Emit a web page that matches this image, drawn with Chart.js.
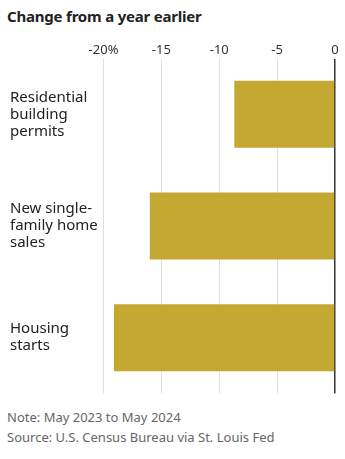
<!DOCTYPE html>
<html>
<head>
<meta charset="utf-8">
<script src="https://cdn.jsdelivr.net/npm/chart.js@4/dist/chart.umd.min.js"></script>
<style>
  body { margin: 0; background: #fff; width: 345px; height: 459px; position: relative; overflow: hidden; font-family: "Noto Sans", sans-serif; }
  #title { position: absolute; left: 7px; top: 6px; font-size: 15px; font-weight: bold; color: #222; letter-spacing: -0.2px; }
  #wrap { position: absolute; left: 0; top: 0; width: 345px; height: 400px; }
  .note { position: absolute; left: 7px; font-size: 13px; color: #666; }
</style>
</head>
<body>
<div id="title">Change from a year earlier</div>
<div id="wrap"><canvas id="barChart"></canvas></div>
<div class="note" style="top:408px">Note: May 2023 to May 2024</div>
<div class="note" style="top:428px">Source: U.S. Census Bureau via St. Louis Fed</div>
<script>
  // Categories (multi-line labels) and year-over-year change, %
  const categories = [
    ['Residential', 'building', 'permits'],
    ['New single-', 'family home', 'sales'],
    ['Housing', 'starts']
  ];
  const changes = [-8.7, -16.0, -19.1];
  const tickValues = [-20, -15, -10, -5, 0];

  const ctx = document.getElementById('barChart').getContext('2d');
  new Chart(ctx, {
    type: 'bar',
    data: {
      labels: categories,
      datasets: [{
        data: changes,
        backgroundColor: '#c4a832',
        barPercentage: 0.75,
        categoryPercentage: 0.8
      }]
    },
    options: {
      indexAxis: 'y',
      responsive: true,
      maintainAspectRatio: false,
      animation: false,
      layout: { padding: { left: 10, right: 10, top: 30, bottom: 6.5 } },
      plugins: { legend: { display: false }, tooltip: { enabled: false } },
      scales: {
        x: {
          position: 'top',
          min: -20,
          max: 0,
          afterBuildTicks: (scale) => { scale.ticks = tickValues.map(v => ({ value: v })); },
          afterFit: (scale) => { scale.height = 28.5; },
          border: { display: false },
          grid: {
            drawTicks: false,
            color: (c) => c.tick && c.tick.value === 0 ? '#333' : '#e0e0e0',
            lineWidth: (c) => c.tick && c.tick.value === 0 ? 1.5 : 1
          },
          ticks: {
            padding: 0,
            color: '#333',
            font: { family: 'Noto Sans', size: 13 },
            callback: (v) => v === -20 ? '-20%' : String(v)
          }
        },
        y: {
          // labels sit inside their bands, so no extra room above/below the plot
          afterFit: (scale) => {
            scale.width = 93.5;
            scale.paddingTop = 0;
            scale.paddingBottom = 0;
          },
          border: { display: false },
          grid: { display: false },
          ticks: {
            crossAlign: 'far',
            color: '#222',
            font: { family: 'Noto Sans', size: 15, lineHeight: 1.13 }
          }
        }
      }
    }
  });
</script>
</body>
</html>
